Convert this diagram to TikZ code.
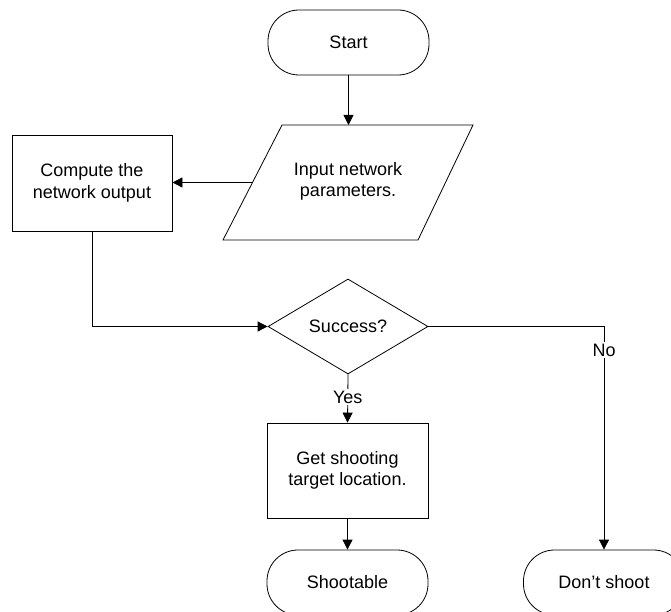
\documentclass[tikz,border=0pt]{standalone}
\usepackage{fontspec}
\setmainfont{Liberation Sans}
\usetikzlibrary{shapes.geometric,arrows.meta,calc}
\begin{document}
\begin{tikzpicture}[x=1pt,y=-1pt,
  font=\fontsize{18}{21.5}\selectfont,
  every node/.style={align=center},
  line/.style={line width=0.8pt,draw=black},
  flow/.style={line, -{Triangle[length=10pt,width=10pt]}},
  terminal/.style={line, rectangle, rounded corners=31pt, minimum width=161pt, minimum height=65pt, inner sep=0pt},
  process/.style={line, rectangle, inner sep=0pt},
  decision/.style={line, diamond, minimum width=160pt, minimum height=95pt, inner sep=0pt},
  label/.style={fill=white, inner sep=1.5pt}]
  \useasboundingbox (0,0) rectangle (671,612);
  \clip (0,0) rectangle (671,612);

  % terminals and process boxes
  \node[terminal] (start) at (348.5,42.5) {Start};
  \node[process, minimum width=160pt, minimum height=96pt] (compute) at (92,183) {Compute the\\network output};
  \node[decision] (dec) at (348,326.5) {Success?};
  \node[process, minimum width=161pt, minimum height=95pt] (get) at (347.5,470.5) {Get shooting\\target location.};
  \node[terminal] (shoot) at (347.5,582.5) {Shootable};
  \node[terminal] (dont) at (604,582.5) {Don’t shoot};

  % input parallelogram
  \coordinate (inTL) at (282,125);
  \coordinate (inTR) at (473,125);
  \coordinate (inBR) at (418,240);
  \coordinate (inBL) at (223,240);
  \draw[line] (inTL) -- (inTR) -- (inBR) -- (inBL) -- cycle;
  \node (input) at (348,181.5) {Input network\\parameters.};
  \coordinate (inTop) at (348.5,125);
  \coordinate (inLeft) at ($(inTL)!0.5!(inBL)$);

  % connectors
  \draw[flow] (start.south) -- (inTop);
  \draw[flow] (inLeft) -- (compute.east |- inLeft);
  \draw[flow] (compute.south) |- (dec.west);
  \draw[flow] (dec.south) -- node[label, pos=0.47] {Yes} (get.north);
  \draw[flow] (dec.east) -| node[label, pos=0.553] {No} (dont.north);
  \draw[flow] (get.south) -- (shoot.north);
\end{tikzpicture}
\end{document}
